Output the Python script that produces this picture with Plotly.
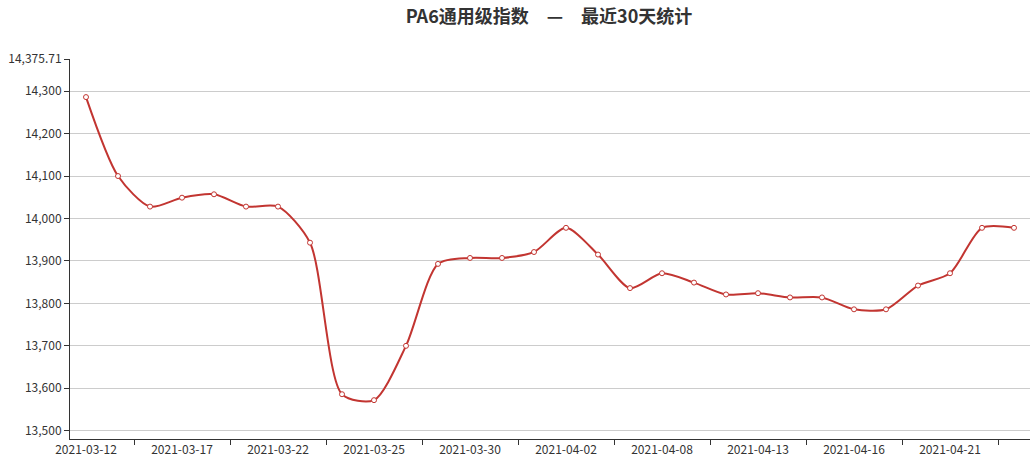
import plotly.graph_objects as go

dates = ["2021-03-12", "2021-03-15", "2021-03-16", "2021-03-17", "2021-03-18", "2021-03-19",
         "2021-03-22", "2021-03-23", "2021-03-24", "2021-03-25", "2021-03-26", "2021-03-29",
         "2021-03-30", "2021-03-31", "2021-04-01", "2021-04-02", "2021-04-06", "2021-04-07",
         "2021-04-08", "2021-04-09", "2021-04-12", "2021-04-13", "2021-04-14", "2021-04-15",
         "2021-04-16", "2021-04-19", "2021-04-20", "2021-04-21", "2021-04-22", "2021-04-23"]
values = [14286, 14100, 14028, 14049, 14057, 14028,
          14028, 13943, 13586, 13572, 13700, 13893,
          13907, 13907, 13921, 13978, 13915, 13836,
          13871, 13849, 13821, 13824, 13814, 13814,
          13786, 13786, 13842, 13871, 13978, 13978]
y_ticks = [13500, 13600, 13700, 13800, 13900, 14000, 14100, 14200, 14300, 14375.71]
y_range = [13480.5, 14375.71]
label_step = 3

idx = list(range(len(dates)))
red = "#c23531"
font_family = "Noto Sans CJK SC, Microsoft YaHei, sans-serif"

fig = go.Figure()
fig.add_trace(go.Scatter(
    x=idx, y=values, mode="lines+markers",
    line=dict(color=red, width=2, shape="spline", smoothing=0.75),
    marker=dict(symbol="circle", size=5, color="white", line=dict(color=red, width=1)),
    hovertext=dates, showlegend=False,
))

def fmt(v):
    return f"{v:,.2f}" if v != int(v) else f"{int(v):,}"

fig.update_layout(
    width=1034, height=468,
    margin=dict(l=70, r=4, t=59, b=29),
    paper_bgcolor="white", plot_bgcolor="white",
    title=dict(text="<b>PA6通用级指数　—　最近30天统计</b>", x=549 / 1034, xanchor="center",
               y=1 - 17 / 468, yanchor="middle",
               font=dict(family=font_family, size=18, color="#333")),
    font=dict(family=font_family, size=12, color="#333"),
    xaxis=dict(
        range=[-0.5, len(dates) - 0.5], showgrid=False, zeroline=False, automargin=False,
        tickmode="array", tickvals=idx[::label_step], ticktext=dates[::label_step],
        ticks="", showline=True, linecolor="#333", linewidth=1,
        tickfont=dict(size=12, color="#333"),
        minor=dict(tick0=1.5, dtick=label_step, ticks="outside", ticklen=5,
                   tickcolor="#333", showgrid=False),
    ),
    yaxis=dict(
        range=y_range, tickmode="array", tickvals=y_ticks, automargin=False,
        ticktext=[fmt(v) for v in y_ticks],
        showgrid=True, gridcolor="#ccc", gridwidth=1, zeroline=False,
        showline=True, linecolor="#333", linewidth=1,
        ticks="outside", ticklen=5, tickcolor="#333",
        tickfont=dict(size=12, color="#333"),
    ),
)

fig.write_html("out.html", config={"displayModeBar": False},
               post_script="document.body.style.margin='0';document.body.style.overflow='hidden';")
